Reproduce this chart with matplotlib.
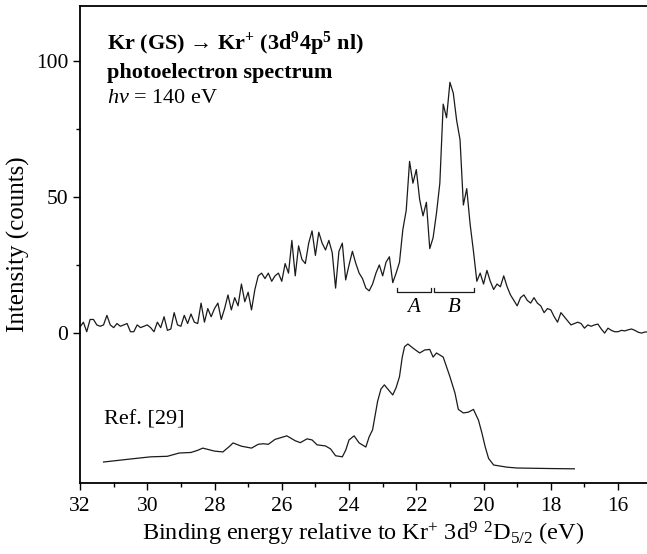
import numpy as np
import matplotlib
matplotlib.use("Agg")
import matplotlib.pyplot as plt
from matplotlib.ticker import MultipleLocator, FixedLocator

plt.rcParams["font.family"] = ["Liberation Serif", "DejaVu Serif"]
plt.rcParams["mathtext.fontset"] = "custom"
plt.rcParams["mathtext.rm"] = "Liberation Serif"
plt.rcParams["mathtext.it"] = "Liberation Serif:italic"
plt.rcParams["mathtext.bf"] = "Liberation Serif:bold"

# Measured photoelectron counts, 0.1 eV steps from 32.0 eV down to 15.1 eV
counts = [
    2.2, 4, 0.5, 5, 5, 3, 2.5, 3, 6.5, 3,
    2, 3.5, 2.5, 3, 3.5, 0.5, 0.5, 3, 2, 2.5,
    3, 2, 0.5, 4, 2, 6, 1, 1.5, 7.5, 3,
    2.5, 6.5, 3.5, 7, 4, 3.5, 11, 4, 9, 6,
    9, 11, 5, 9, 14, 8.5, 13, 10, 18, 11.5,
    15, 8.5, 16, 21, 22, 20, 22, 19, 21, 22,
    19, 25.5, 22, 34, 21, 32, 27, 25.5, 33, 37.5,
    28.5, 37, 33, 30.5, 34, 29.5, 16.5, 30, 33, 19.5,
    25, 30, 25.6, 22, 20, 16.5, 15.5, 18, 22, 25,
    21, 26, 28, 18.5, 22, 26, 38, 45, 63, 55,
    60, 49, 43, 48, 31, 35, 44, 55, 84, 79,
    92, 88, 78, 71, 47, 53, 40, 30, 19, 22,
    18, 23, 19, 16, 18, 17, 21, 17, 14, 12,
    10, 13, 14, 12, 11, 13, 11, 10, 7.5, 9,
    8.5, 6, 4, 7.5, 6, 4.5, 3, 3.5, 4, 3.5,
    1.8, 3, 2.5, 3, 3.3, 1.5, 0, 1.8, 1, 0.5,
    0.5, 1, 0.8, 1.2, 1.5, 1, 0.3, 0, 0.4, 0.4,
]
energy = 32.0 - 0.1 * np.arange(len(counts))

# Earlier spectrum (Ref. [29]), shown with a vertical offset
ref_energy = [31.3, 30.5, 29.9, 29.4, 29.05, 28.7, 28.5, 28.35, 28.0, 27.75,
              27.55, 27.45, 27.2, 26.9, 26.7, 26.55, 26.4, 26.2, 25.85, 25.6,
              25.45, 25.25, 25.1, 24.95, 24.7, 24.55, 24.4, 24.2, 24.1, 24.0,
              23.85, 23.7, 23.5, 23.4, 23.3, 23.15, 23.05, 22.95, 22.85, 22.7,
              22.6, 22.5, 22.42, 22.35, 22.25, 22.1, 21.9, 21.75, 21.6, 21.5,
              21.4, 21.2, 21.0, 20.85, 20.75, 20.6, 20.45, 20.3, 20.15, 20.05,
              19.95, 19.85, 19.7, 19.3, 19.0, 18.0, 17.3]
ref_level = [-47.3, -46.2, -45.4, -45.2, -44, -43.8, -43, -42.2, -43.3, -43.6,
             -41.5, -40.3, -41.5, -42.2, -40.8, -40.6, -40.8, -39, -37.7, -39.5,
             -40.2, -38.8, -39.2, -41, -41.4, -42.5, -45, -45.4, -43, -39.2,
             -37.7, -40.3, -41.8, -38, -35.5, -25, -20.5, -19, -20.5, -22.7,
             -20, -16, -9, -5, -4, -5.5, -7.3, -6.2, -6, -8.8,
             -7.3, -8.8, -16, -22, -28, -29.3, -29, -28, -32, -36.6,
             -41.8, -46, -48.4, -49.2, -49.5, -49.7, -49.8]

# Bracketed groups A and B
group_names = ["A", "B"]
group_start = [22.58, 21.48]
group_end = [21.57, 20.29]
bracket_level = 15.0

fig = plt.figure(figsize=(6.47, 5.54), dpi=100)
ax = fig.add_axes([80 / 647, 71 / 554, 1 - 80 / 647, 477 / 554])

ax.plot(energy, counts, color="#1a1a1a", lw=0.9)
ax.plot(ref_energy, ref_level, color="#1a1a1a", lw=0.9)

for name, e0, e1 in zip(group_names, group_start, group_end):
    ax.plot([e0, e0, e1, e1],
            [bracket_level + 1.5, bracket_level, bracket_level, bracket_level + 1.5],
            color="#1a1a1a", lw=0.9)
    ax.text((e0 + e1) / 2, bracket_level - 2.0, name, style="italic",
            fontsize=15, ha="center", va="top")

ax.set_xlim(32, 15.14)
ax.set_ylim(-55, 120)
ax.xaxis.set_major_locator(MultipleLocator(2))
ax.xaxis.set_minor_locator(MultipleLocator(1))
ax.yaxis.set_major_locator(FixedLocator([0, 50, 100]))
ax.yaxis.set_minor_locator(FixedLocator([25, 75]))
ax.tick_params(which="major", direction="out", length=5, width=1.0, labelsize=15.5)
ax.tick_params(which="minor", direction="out", length=3, width=1.0)
ax.tick_params(axis="x", pad=5)

for side in ["left", "bottom", "top"]:
    ax.spines[side].set_linewidth(1.3)
ax.spines["right"].set_visible(False)

ax.set_xlabel(r"Binding energy relative to Kr$^{+}$ 3d$^{9}$ $^{2}$D$_{5/2}$ (eV)",
              fontsize=17.5, labelpad=3)
ax.set_ylabel("Intensity (counts)", fontsize=18, labelpad=4)

ax.text(0.048, 0.908,
        r"Kr (GS) → Kr$^{\mathbf{+}}$ (3d$^{\mathbf{9}}$4p$^{\mathbf{5}}$ nl)",
        transform=ax.transAxes, fontsize=16, fontweight="bold", va="baseline")
ax.text(0.048, 0.849, "photoelectron spectrum",
        transform=ax.transAxes, fontsize=16, fontweight="bold", va="baseline")
ax.text(0.048, 0.797, r"$hv$ = 140 eV",
        transform=ax.transAxes, fontsize=16, va="baseline")
ax.text(31.28, -33.7, "Ref. [29]", fontsize=16, va="baseline")

fig.savefig("out.png", dpi=100)
